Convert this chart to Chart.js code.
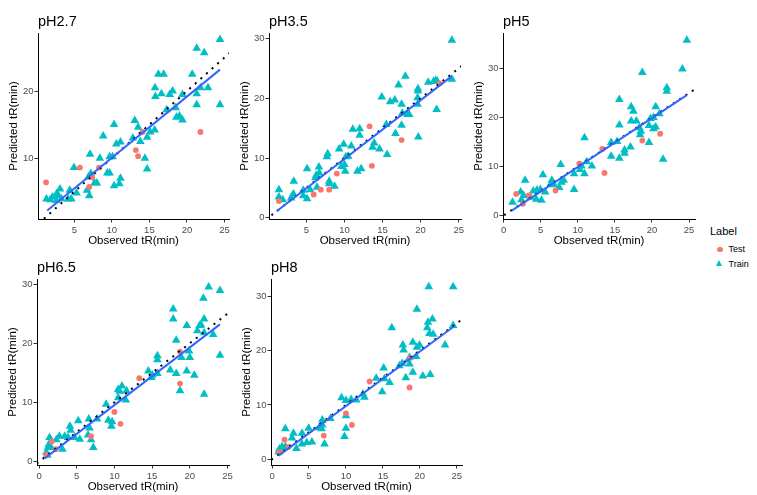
<!DOCTYPE html>
<html>
<head>
<meta charset="utf-8">
<title>Predicted vs observed tR</title>
<script src="https://cdn.jsdelivr.net/npm/chart.js@4.4.0/dist/chart.umd.min.js"></script>
<style>
  body {
    margin: 0;
    background: #fff;
    width: 757px;
    height: 495px;
    position: relative;
    overflow: hidden;
    font-family: "Liberation Sans", Arial, sans-serif;
  }
  canvas { position: absolute; }
  .lg { position: absolute; white-space: nowrap; color: #000; }
  .lg-title { font-size: 11px; line-height: 13px; }
  .lg-item { font-size: 9px; line-height: 11px; }
  .lg-dot { position: absolute; width: 5.6px; height: 5.6px; border-radius: 50%; background: #F8766D; }
  .lg-tri {
    position: absolute; width: 0; height: 0;
    border-left: 3.6px solid transparent;
    border-right: 3.6px solid transparent;
    border-bottom: 6px solid #00BFC4;
  }
</style>
</head>
<body>

<div class="lg lg-title" style="left:710px; top:224.5px;">Label</div>
<div class="lg-dot" style="left:717.2px; top:246.5px;"></div>
<div class="lg lg-item" style="left:728.5px; top:244px;">Test</div>
<div class="lg-tri" style="left:716.4px; top:260px;"></div>
<div class="lg lg-item" style="left:728.5px; top:258.5px;">Train</div>

<script>
// tick labels shared by every panel (only those inside the range get drawn)
const xTicks = [0, 5, 10, 15, 20, 25];
const yTicks = [0, 10, 20, 30];

// y = x reference
const identityLine = [[-5, -5], [40, 40]];

// pH 2.7
const testPH27 = [[1.24, 6.4], [5.75, 8.6], [8.3, 8.6], [7.4, 7.1], [7.0, 5.7], [13.2, 11.2], [13.5, 10.3], [14.1, 13.9], [21.8, 13.9]];
const trainPH27 = [
  [24.4, 27.7], [21.3, 26.4], [22.3, 25.7], [16.2, 22.5], [16.9, 22.5], [20.7, 22.5], [15.75, 20.5], [15.8, 19.2],
  [16.6, 19.6], [18.1, 20.0], [17.7, 19.5], [19.4, 19.5], [21.3, 19.6], [21.8, 20.5], [22.8, 20.5], [21.3, 17.96],
  [24.4, 17.96], [17.3, 17.2], [18.5, 17.5], [18.6, 16.1], [19.0, 16.3], [19.4, 15.7], [13.05, 15.6], [13.5, 14.6],
  [13.8, 12.5], [12.8, 13.0], [15.1, 13.9], [15.7, 14.2], [14.7, 13.1], [14.4, 10.0], [14.7, 8.4], [10.3, 15.0],
  [10.6, 12.1], [11.15, 12.4], [8.85, 13.3], [7.1, 10.6], [8.4, 10.0], [9.7, 10.2], [10.1, 10.2], [9.7, 7.8],
  [9.4, 7.8], [10.3, 5.9], [11.0, 6.2], [11.15, 7.0], [7.2, 7.7], [6.9, 7.2], [6.7, 5.2], [7.0, 4.4],
  [8.0, 6.3], [7.7, 6.3], [4.96, 8.6], [5.3, 4.8], [4.4, 5.2], [4.6, 3.9], [4.2, 3.9], [3.1, 5.4],
  [2.9, 4.4], [2.65, 4.7], [2.1, 4.2], [1.8, 3.8], [1.3, 3.9], [2.6, 3.7], [3.3, 3.9]
];
const fitPH27 = [[1.4, 2.2], [24.4, 23.2]];

// pH 3.5
const testPH35 = [[1.4, 2.8], [5.96, 3.9], [6.9, 4.7], [8.0, 4.7], [9.0, 7.4], [13.6, 8.7], [13.3, 15.3], [17.5, 13.0], [22.5, 22.5]];
const trainPH35 = [
  [24.1, 29.7], [24.1, 23.2], [21.0, 22.7], [21.7, 22.8], [22.0, 23.0], [22.2, 22.8], [18.0, 23.7], [17.1, 22.2],
  [19.65, 21.6], [19.65, 21.2], [19.6, 20.1], [19.6, 19.0], [14.9, 20.2], [16.0, 19.4], [16.6, 19.7], [17.5, 19.0],
  [17.6, 17.5], [18.3, 17.3], [18.5, 17.3], [22.1, 18.1], [17.5, 15.5], [16.7, 14.1], [15.5, 15.6], [19.7, 13.5],
  [15.6, 10.6], [13.9, 12.5], [13.7, 11.8], [14.6, 11.5], [12.0, 14.9], [12.0, 13.8], [11.1, 14.8], [10.9, 12.0],
  [9.9, 12.3], [9.3, 11.5], [10.2, 10.2], [10.5, 10.3], [10.0, 8.9], [10.1, 7.8], [9.6, 8.6], [11.7, 7.8],
  [12.2, 8.2], [7.8, 10.7], [7.7, 10.2], [6.65, 8.5], [6.7, 7.5], [6.3, 7.1], [6.2, 6.7], [8.0, 6.1],
  [8.0, 5.7], [8.7, 5.3], [5.1, 8.2], [6.4, 5.1], [5.5, 4.7], [4.6, 4.6], [4.6, 3.7], [5.1, 3.2],
  [3.35, 6.1], [3.3, 4.0], [3.0, 3.3], [1.4, 4.7], [1.4, 3.5], [1.9, 3.0]
];
const fitPH35 = [[1.1, 1.1], [24.1, 23.7]];

// pH 5
const testPH5 = [[1.7, 4.4], [2.6, 2.4], [3.4, 4.1], [7.0, 5.1], [10.2, 10.6], [13.3, 13.6], [13.6, 8.7], [18.7, 15.3], [21.1, 16.7]];
const trainPH5 = [
  [24.7, 35.8], [24.1, 29.9], [18.7, 29.2], [22.0, 26.1], [22.0, 25.4], [15.6, 23.7], [20.5, 22.2], [17.2, 22.2],
  [17.5, 21.3], [17.2, 19.3], [17.9, 19.3], [15.6, 18.5], [18.3, 17.9], [18.4, 16.5], [18.5, 17.2], [19.6, 18.4],
  [19.8, 19.8], [20.2, 20.0], [20.2, 17.7], [20.5, 18.1], [21.0, 20.8], [19.6, 14.9], [21.5, 11.5], [15.3, 15.1],
  [14.5, 14.9], [17.1, 14.0], [16.3, 13.4], [16.3, 12.7], [15.6, 11.7], [14.5, 12.1], [10.9, 15.9], [11.2, 11.0],
  [11.9, 10.1], [10.5, 10.1], [10.3, 9.4], [10.9, 8.5], [9.5, 8.5], [9.5, 5.3], [7.7, 10.4], [8.1, 7.2],
  [7.8, 6.8], [7.5, 5.7], [6.5, 7.2], [6.4, 6.5], [6.8, 6.3], [5.3, 8.3], [5.6, 4.8], [4.95, 5.3],
  [5.1, 3.1], [4.5, 5.2], [4.4, 3.3], [4.0, 5.0], [2.9, 7.2], [2.7, 4.1], [2.3, 4.8], [2.4, 3.2],
  [3.6, 3.7], [1.2, 2.7]
];
const fitPH5 = [[1.1, 1.0], [24.7, 24.6]];

// pH 6.5
const testPH65 = [[0.97, 1.2], [1.7, 3.4], [2.2, 2.1], [6.9, 4.3], [10.0, 8.4], [10.8, 6.4], [13.3, 14.1], [18.7, 18.6], [18.7, 13.2]];
const trainPH65 = [
  [22.5, 29.5], [24.0, 28.9], [21.8, 27.6], [17.8, 25.8], [17.8, 24.1], [19.6, 23.0], [21.9, 24.1], [21.5, 23.1],
  [21.0, 22.1], [23.1, 21.5], [21.9, 21.8], [18.2, 20.5], [21.3, 23.0], [24.0, 18.0], [15.7, 17.9], [15.7, 17.2],
  [19.9, 18.7], [18.9, 17.6], [20.0, 17.6], [14.5, 15.3], [15.05, 14.6], [15.7, 14.9], [17.4, 15.5], [18.2, 14.9],
  [19.6, 15.3], [20.6, 14.6], [18.7, 12.0], [21.9, 11.4], [14.9, 14.2], [11.0, 12.8], [10.5, 12.2], [10.7, 11.9],
  [11.6, 12.0], [11.5, 10.4], [10.5, 10.8], [8.9, 9.7], [9.2, 7.0], [9.7, 6.75], [9.6, 6.0], [6.6, 7.2],
  [7.7, 7.2], [6.7, 5.7], [6.9, 3.7], [6.5, 4.5], [7.2, 2.4], [5.2, 6.9], [5.4, 3.8], [4.1, 6.0],
  [4.2, 5.3], [4.7, 4.1], [3.85, 4.1], [3.4, 4.3], [2.7, 4.3], [3.1, 2.1], [1.4, 4.1], [1.3, 2.9],
  [1.2, 2.4], [1.6, 2.4], [0.97, 1.6], [1.1, 1.1], [2.3, 3.7]
];
const fitPH65 = [[0.75, 0.56], [24.0, 23.2]];

// pH 8
const testPH8 = [[1.0, 1.3], [1.7, 3.6], [2.25, 2.3], [7.0, 4.35], [10.0, 8.45], [10.8, 6.3], [13.2, 14.3], [18.7, 18.6], [18.6, 13.2]];
const trainPH8 = [
  [21.2, 31.7], [24.5, 31.7], [19.6, 27.6], [21.7, 25.8], [21.1, 25.2], [16.2, 24.2], [21.0, 24.2], [21.3, 23.1],
  [21.8, 23.0], [24.5, 24.6], [23.4, 21.0], [19.05, 21.5], [17.7, 21.0], [17.8, 20.1], [19.95, 21.0], [19.6, 20.6],
  [18.6, 18.7], [18.6, 17.5], [19.5, 18.9], [17.6, 17.6], [19.05, 16.0], [18.1, 15.0], [20.4, 15.3], [21.4, 15.6],
  [17.25, 17.2], [15.1, 16.8], [15.2, 14.8], [14.1, 14.9], [15.9, 14.1], [14.9, 12.4], [12.3, 12.0], [12.5, 11.4],
  [11.4, 10.9], [10.7, 11.0], [10.0, 10.8], [9.4, 11.3], [10.0, 8.0], [10.0, 5.7], [9.8, 4.2], [7.9, 7.5],
  [6.8, 7.2], [6.8, 6.3], [6.4, 5.8], [6.7, 5.6], [4.95, 5.7], [5.4, 3.2], [4.7, 3.1], [7.1, 2.8],
  [4.05, 4.8], [4.05, 2.8], [2.9, 4.8], [2.7, 3.9], [3.3, 2.0], [1.8, 5.6], [1.0, 1.9], [1.35, 2.3],
  [1.8, 2.3], [0.9, 1.4]
];
const fitPH8 = [[0.9, 0.67], [24.6, 24.4]];

const TEST_COLOR = "#F8766D";
const TRAIN_COLOR = "#00BFC4";
const FIT_COLOR = "#3366FF";
const FONT = '"Liberation Sans", Arial, sans-serif';

// plot box = [left, top, right, bottom] of each panel's data area
const panels = [
  { title: "pH2.7", test: testPH27, train: trainPH27, fit: fitPH27, x: [0.17, 25.6], y: [0.93, 28.66], box: [37.7, 32.7, 229, 218.5] },
  { title: "pH3.5", test: testPH35, train: trainPH35, fit: fitPH35, x: [0.1, 25.3], y: [-0.2, 30.92], box: [269.3, 32.7, 461.7, 218.5] },
  { title: "pH5", test: testPH5, train: trainPH5, fit: fitPH5, x: [-0.08, 25.8], y: [-0.72, 37.28], box: [502.7, 32.7, 694.3, 218.5] },
  { title: "pH6.5", test: testPH65, train: trainPH65, fit: fitPH65, x: [-0.27, 25.2], y: [-0.56, 30.86], box: [37.3, 279, 229.3, 465] },
  { title: "pH8", test: testPH8, train: trainPH8, fit: fitPH8, x: [-0.14, 25.7], y: [-1.05, 33.14], box: [270.7, 279, 461.7, 465] },
];

const Y_AXIS_W = 38;
const X_AXIS_H = 30;
const PAD_TOP = 33;
const PAD_RIGHT = 12;

const toPoints = arr => arr.map(([x, y]) => ({ x, y }));

// panel heading, left-aligned with the plot area
const panelTitle = {
  id: "panelTitle",
  afterDraw(chart, args, opts) {
    const { ctx, chartArea } = chart;
    ctx.save();
    ctx.font = `14.5px ${FONT}`;
    ctx.fillStyle = "#000";
    ctx.textAlign = "left";
    ctx.textBaseline = "alphabetic";
    ctx.fillText(opts.text, chartArea.left, chartArea.top - 7.5);
    ctx.restore();
  }
};

function axis(range, ticks, title, isX) {
  return {
    type: "linear",
    min: range[0],
    max: range[1],
    afterBuildTicks: s => {
      s.ticks = ticks.filter(v => v >= s.min && v <= s.max).map(v => ({ value: v }));
    },
    afterFit: s => {
      if (isX) s.height = X_AXIS_H;
      else s.width = Y_AXIS_W;
    },
    ticks: {
      autoSkip: false,
      maxRotation: 0,
      color: "#4D4D4D",
      font: { family: FONT, size: 9.5 },
      padding: isX ? 2.5 : 1,
    },
    grid: {
      drawOnChartArea: false,
      drawTicks: true,
      tickLength: 3.5,
      color: "#333",
      lineWidth: 1,
    },
    border: { display: true, color: "#000", width: 1 },
    title: {
      display: true,
      text: title,
      color: "#000",
      font: { family: FONT, size: 11.5 },
      padding: isX ? { top: 0, bottom: 1 } : { top: 7.3, bottom: 0 },
    },
  };
}

function renderPanel(p) {
  const [l, t, r, b] = p.box;
  const canvas = document.createElement("canvas");
  const w = Math.round(r - l + Y_AXIS_W + PAD_RIGHT);
  const h = Math.round(b - t + PAD_TOP + X_AXIS_H);
  canvas.width = w;
  canvas.height = h;
  canvas.style.width = w + "px";
  canvas.style.height = h + "px";
  canvas.style.left = (l - Y_AXIS_W) + "px";
  canvas.style.top = (t - PAD_TOP) + "px";
  document.body.appendChild(canvas);

  new Chart(canvas, {
    type: "scatter",
    data: {
      datasets: [
        {
          data: toPoints(p.fit),
          showLine: true,
          borderColor: FIT_COLOR,
          borderWidth: 2,
          pointRadius: 0,
        },
        {
          data: toPoints(identityLine),
          showLine: true,
          borderColor: "#000",
          borderWidth: 2,
          borderDash: [2, 5.5],
          borderCapStyle: "butt",
          pointRadius: 0,
        },
        {
          label: "Test",
          data: toPoints(p.test),
          pointStyle: "circle",
          pointRadius: 2.9,
          backgroundColor: TEST_COLOR,
          borderWidth: 0,
        },
        {
          label: "Train",
          data: toPoints(p.train),
          pointStyle: "triangle",
          pointRadius: 5,
          backgroundColor: TRAIN_COLOR,
          borderWidth: 0,
        },
      ],
    },
    options: {
      responsive: false,
      animation: false,
      events: [],
      devicePixelRatio: 1,
      layout: { padding: { top: PAD_TOP, right: PAD_RIGHT, left: 0, bottom: 0 } },
      scales: {
        x: axis(p.x, xTicks, "Observed tR(min)", true),
        y: axis(p.y, yTicks, "Predicted tR(min)", false),
      },
      plugins: {
        legend: { display: false },
        tooltip: { enabled: false },
        panelTitle: { text: p.title },
      },
    },
    plugins: [panelTitle],
  });
}

panels.forEach(renderPanel);
</script>
</body>
</html>
